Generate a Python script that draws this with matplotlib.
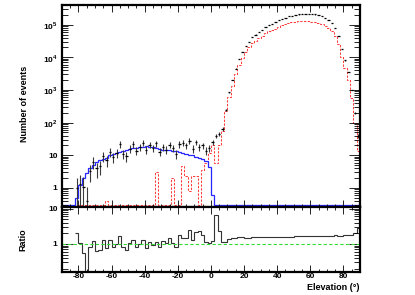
import numpy as np
import matplotlib
matplotlib.use('Agg')
import matplotlib.pyplot as plt
from matplotlib.ticker import FixedLocator, MultipleLocator, NullFormatter, FuncFormatter

plt.rcParams['font.family'] = ['Liberation Sans', 'DejaVu Sans']
plt.rcParams['mathtext.fontset'] = 'custom'
plt.rcParams['mathtext.rm'] = 'Liberation Sans:bold'
plt.rcParams['mathtext.bf'] = 'Liberation Sans:bold'

# elevation bins, 2 degrees wide, from -90 to 90
bin_edges = np.arange(-90, 91, 2)

# measured counts (black points)
data_counts = [0, 0, 0, 0, 1.0, 1.3, 1.1, 0.4, 3.3, 6.2, 4.0, 4.7, 9.5, 7.0, 12.6,
               8.8, 12, 22, 11, 9.5, 16, 22, 14, 18, 24, 15, 21, 17, 23, 13,
               18, 15, 21, 17, 11, 22, 24, 20, 28, 16, 25, 18, 20, 14, 17,
               25, 39, 45, 65, 250, 850, 2000, 4500, 9000, 14500, 22000, 30000, 42000, 50000, 60000,
               70000, 85000, 97000, 108000, 120000, 135000, 150000, 165000, 180000, 190000,
               200000, 205000, 210000, 212000, 212000, 210000, 205000, 195000, 180000, 160000,
               140000, 110000, 80000, 45000, 18000, 8000, 3500, 1000, 200, 40]

# simulated component, solid blue
mc_blue = [0, 0, 0, 0, 0.5, 1.2, 2.0, 2.8, 4.0, 5.2, 6.2, 7.0, 7.6, 8.5, 10,
           11, 12, 13, 13.5, 14.5, 15.5, 16.5, 17, 18, 18.5, 19, 18.5, 18, 17, 16,
           15, 14.5, 14.5, 14, 13.5, 12.5, 11.5, 11, 10.5, 10, 9, 8, 7.5, 6.5, 4.5,
           0.6, 0, 0, 0, 0, 0, 0, 0, 0, 0, 0, 0, 0, 0, 0,
           0, 0, 0, 0, 0, 0, 0, 0, 0, 0, 0, 0, 0, 0, 0,
           0, 0, 0, 0, 0, 0, 0, 0, 0, 0, 0, 0, 0, 0, 0]

# simulated component, dashed red
mc_red = [0, 0, 0, 0, 0, 0, 0, 0, 0, 0, 0, 0, 0, 0.4, 0,
          0, 0, 0, 0, 0, 0, 0, 0, 0, 0, 0, 0, 0, 3, 0,
          0, 0, 0, 2, 0, 0, 4.7, 2.3, 0.8, 2.3, 2.3, 0, 3.5, 6, 12,
          20, 6, 20, 56, 220, 610, 1350, 3000, 5900, 9500, 14500, 20000, 27500, 32500, 39000,
          45000, 55000, 62000, 69000, 76000, 86000, 95000, 104000, 113000, 118000,
          123000, 126000, 128000, 128000, 127000, 125000, 121000, 115000, 105000, 93000,
          81000, 64000, 46000, 26000, 10500, 4600, 2000, 560, 95, 14]

x_ticks = [-80, -60, -40, -20, 0, 20, 40, 60, 80]

data_counts = np.array(data_counts, dtype=float)
mc_blue = np.array(mc_blue, dtype=float)
mc_red = np.array(mc_red, dtype=float)
centers = 0.5 * (bin_edges[:-1] + bin_edges[1:])

floor = 0.3          # empty bins are drawn at this level, as ROOT does
ymin, ymax = 0.27, 4e5
rmin, rmax = 0.16, 11.5

fig = plt.figure(figsize=(4.15, 2.95), dpi=100)
ax1 = fig.add_axes([0.149, 0.30, 0.7185, 0.683])
ax2 = fig.add_axes([0.149, 0.078, 0.7185, 0.222], sharex=ax1)

# top panel
ax1.stairs(np.maximum(mc_red, floor), bin_edges, color='#ff3b3b', lw=0.75,
           linestyle=(0, (2.2, 1.4)), baseline=None)
ax1.stairs(np.maximum(mc_blue, floor), bin_edges, color='#2626ff', lw=0.9, baseline=None)

has = data_counts > 0
err = np.sqrt(data_counts[has])
lo = np.maximum(data_counts[has] - err, ymin)
hi = data_counts[has] + err
ax1.vlines(centers[has], lo, hi, color='#3a3a3a', lw=0.8)
ax1.hlines(data_counts[has], centers[has] - 0.7, centers[has] + 0.7, color='black', lw=0.9)

ax1.set_yscale('log')
ax1.set_ylim(ymin, ymax)
ax1.set_xlim(-90, 90)

def top_fmt(v, pos):
    if v < 0.5:
        return ''
    e = int(round(np.log10(v)))
    if e == 0:
        return '1'
    if e == 1:
        return '10'
    return r'$10^{%d}$' % e

ax1.yaxis.set_major_locator(FixedLocator([1, 10, 1e2, 1e3, 1e4, 1e5]))
ax1.yaxis.set_major_formatter(FuncFormatter(top_fmt))
ax1.yaxis.set_minor_locator(FixedLocator([m * 10.0 ** e for e in range(-1, 6) for m in range(2, 10)]))
ax1.yaxis.set_minor_formatter(NullFormatter())

# ratio panel
mc_tot = mc_red + mc_blue
ratio = np.full(len(centers), np.nan)
ok = mc_tot > 0
ratio[ok] = data_counts[ok] / mc_tot[ok]
ratio_draw = np.where(np.isnan(ratio), np.nan, np.maximum(ratio, rmin * 0.5))
ax2.stairs(ratio_draw, bin_edges, color='#333333', lw=0.8, baseline=None)
ax2.axhline(1.0, color='#33dd33', lw=0.8, linestyle=(0, (3, 2)))

ax2.set_yscale('log')
ax2.set_ylim(rmin, rmax)
ax2.yaxis.set_major_locator(FixedLocator([1, 10]))
ax2.yaxis.set_major_formatter(FuncFormatter(lambda v, p: '1' if v < 5 else '10'))
ax2.yaxis.set_minor_locator(FixedLocator([m * 0.1 for m in range(2, 10)] + list(range(2, 10))))
ax2.yaxis.set_minor_formatter(NullFormatter())

for ax in (ax1, ax2):
    ax.xaxis.set_major_locator(FixedLocator(x_ticks))
    ax.xaxis.set_minor_locator(MultipleLocator(5))
    for s in ax.spines.values():
        s.set_linewidth(1.6)
    ax.tick_params(which='both', direction='in', top=True, right=True, width=0.6,
                   labelsize=6)
    ax.tick_params(axis='x', which='major', length=5, pad=1)
    ax.tick_params(axis='x', which='minor', length=2.5)
    ax.tick_params(axis='y', which='major', length=8, pad=3)
    ax.tick_params(axis='y', which='minor', length=4)
    for lab in ax.get_xticklabels() + ax.get_yticklabels():
        lab.set_fontweight('bold')

plt.setp(ax1.get_xticklabels(), visible=False)
ax2.set_xticklabels([str(t) for t in x_ticks], fontweight='bold')

fig.text(0.06, 0.647, 'Number of events', rotation=90, ha='center', va='center',
         fontsize=6.5, fontweight='bold')
fig.text(0.055, 0.186, 'Ratio', rotation=90, ha='center', va='center',
         fontsize=6.5, fontweight='bold')
fig.text(0.867, 0.026, 'Elevation (°)', ha='right', va='center',
         fontsize=6.5, fontweight='bold')

fig.savefig('out.png', dpi=100)
